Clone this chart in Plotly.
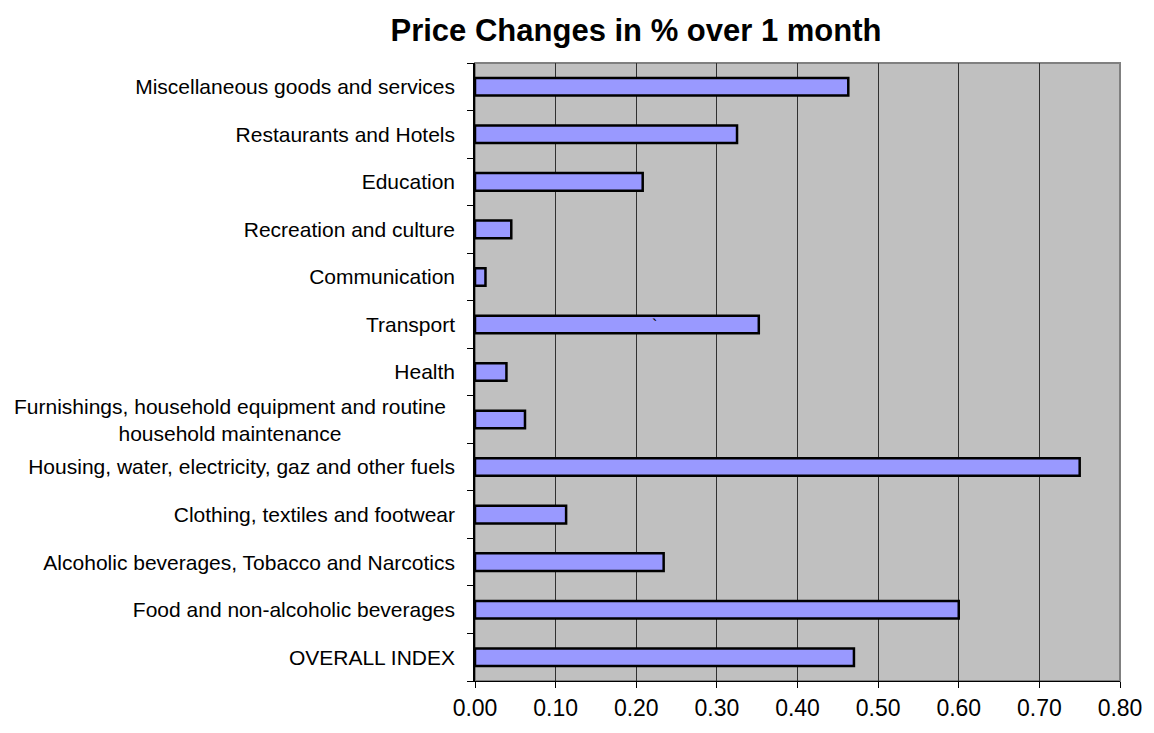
import plotly.graph_objects as go

categories = [
    "OVERALL INDEX",
    "Food and non-alcoholic beverages",
    "Alcoholic beverages, Tobacco and Narcotics",
    "Clothing, textiles and footwear",
    "Housing, water, electricity, gaz and other fuels",
    "Furnishings, household equipment and routine<br>household maintenance",
    "Health",
    "Transport",
    "Communication",
    "Recreation and culture",
    "Education",
    "Restaurants and Hotels",
    "Miscellaneous goods and services",
]
values = [0.470, 0.600, 0.234, 0.113, 0.750, 0.062, 0.039, 0.352, 0.013, 0.045, 0.208, 0.325, 0.463]
x_ticks = [0.0, 0.1, 0.2, 0.3, 0.4, 0.5, 0.6, 0.7, 0.8]
x_tick_labels = ["0.00", "0.10", "0.20", "0.30", "0.40", "0.50", "0.60", "0.70", "0.80"]
title_text = "Price Changes in % over 1 month"

FONT = "Liberation Sans, Arial, sans-serif"
multi = [c for c in categories if "<br>" in c]
ticktext = ["" if "<br>" in c else c for c in categories]
n = len(categories)

fig = go.Figure()
fig.add_trace(go.Bar(
    y=list(range(n)), x=values, orientation="h",
    marker=dict(color="#9999FF", line=dict(color="black", width=2.5)),
    width=0.37, hoverinfo="x",
))

annotations = []
for c in multi:
    annotations.append(dict(
        text=c, x=0, xref="paper", y=categories.index(c), yref="y",
        xanchor="right", yanchor="middle", align="center", xshift=-27,
        showarrow=False, font=dict(family=FONT, size=21, color="black"),
    ))
# stray character present in the original chart
annotations.append(dict(
    text="`", x=0.223, xref="x", y=categories.index("Transport"), yref="y",
    showarrow=False, font=dict(family=FONT, size=16, color="black"), yshift=-1,
))

fig.update_layout(
    width=1154, height=733,
    margin=dict(l=475, r=26, t=63, b=39),
    paper_bgcolor="white", plot_bgcolor="#C0C0C0",
    showlegend=False,
    title=dict(text="<b>" + title_text + "</b>", x=636 / 1154, xanchor="center",
               y=1 - 30 / 733, yanchor="middle",
               font=dict(family=FONT, size=31, color="black")),
    xaxis=dict(range=[0, 0.8], tickvals=x_ticks, ticktext=x_tick_labels,
               showgrid=True, gridcolor="#303030", gridwidth=1,
               ticks="outside", ticklen=6, tickcolor="black", tickwidth=1,
               showline=True, linecolor="black", linewidth=1,
               zeroline=False, fixedrange=True,
               tickfont=dict(family=FONT, size=23, color="black")),
    yaxis=dict(range=[-0.5, n - 0.5],
               tickvals=list(range(n)), ticktext=ticktext,
               showgrid=False, zeroline=False,
               ticks="outside", ticklen=6, tickcolor="rgba(0,0,0,0)", tickwidth=1,
               ticklabelstandoff=8,
               minor=dict(tickvals=[i - 0.5 for i in range(n + 1)], ticks="outside",
                          ticklen=6, tickcolor="black", tickwidth=1, showgrid=False),
               showline=True, linecolor="black", linewidth=1.5,
               fixedrange=True,
               tickfont=dict(family=FONT, size=21, color="black")),
    annotations=annotations,
    shapes=[dict(type="rect", xref="paper", yref="paper", x0=0, x1=1, y0=0, y1=1,
                 line=dict(color="#808080", width=2), layer="below")],
)

fig.write_html("out.html", config={"displayModeBar": False},
               post_script="document.body.style.margin='0';")
